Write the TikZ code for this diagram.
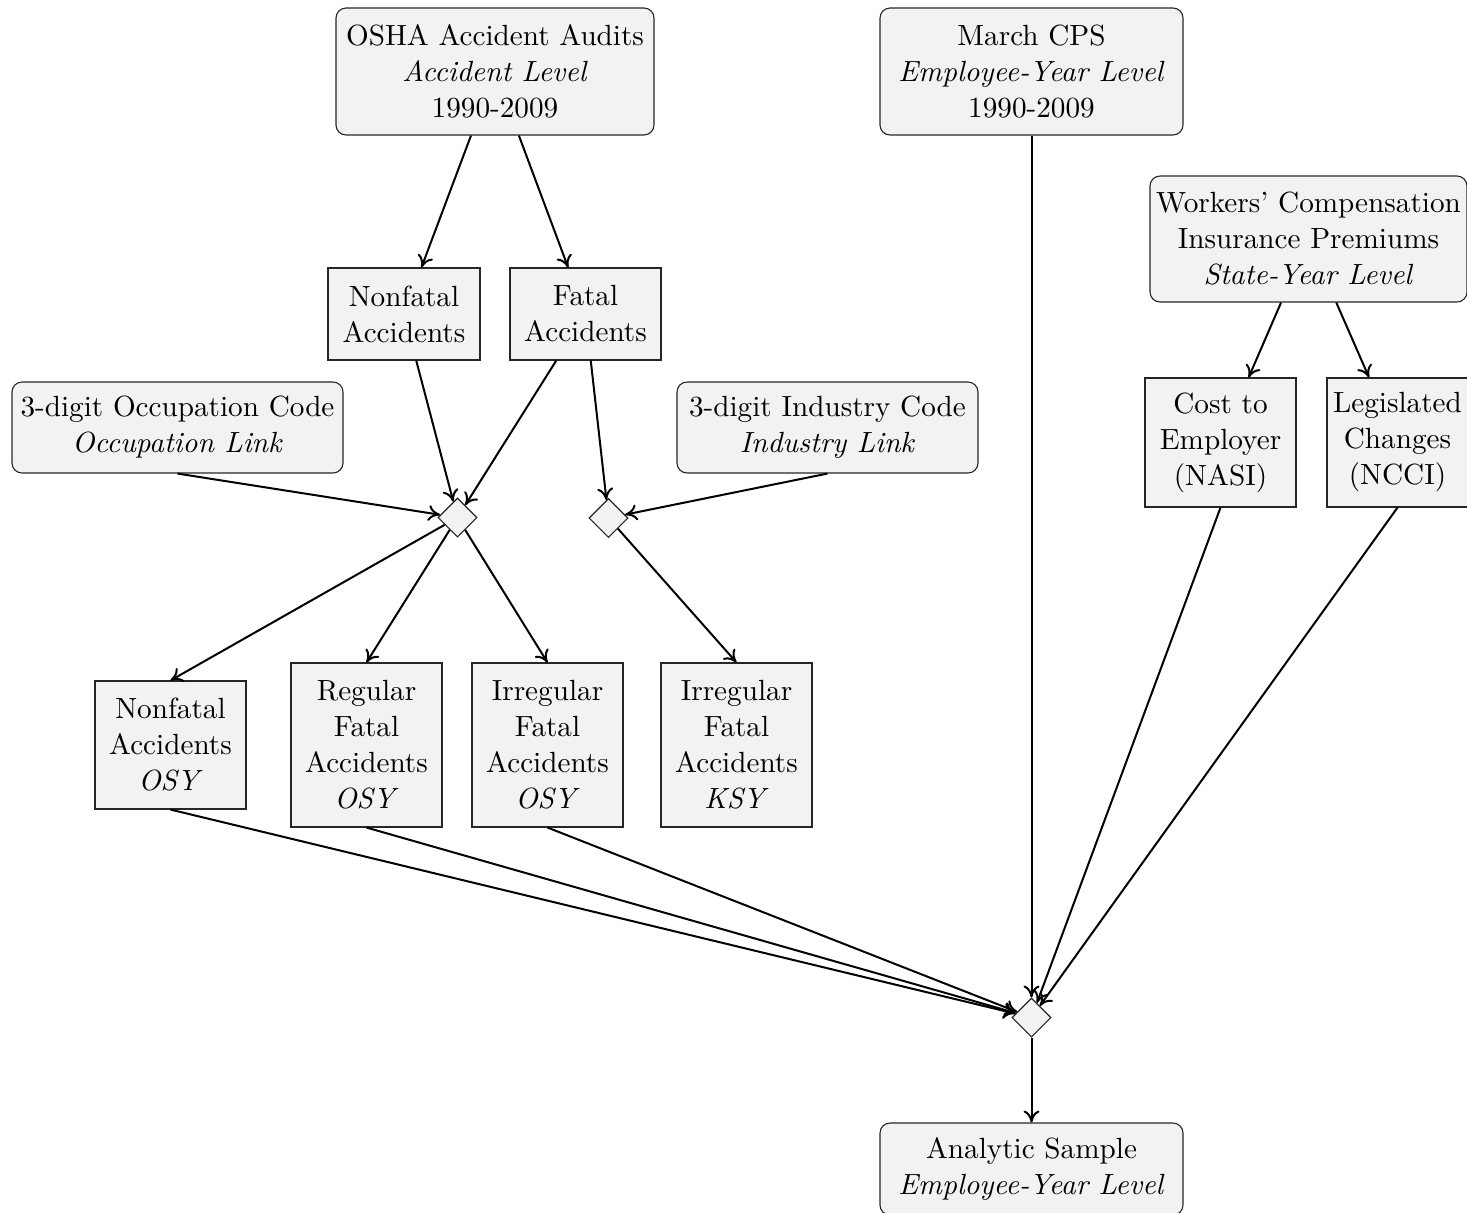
\documentclass[tikz,border=0pt]{standalone}
\usepackage{fontspec}
\setmainfont{lmroman10-regular.otf}[ItalicFont=lmroman10-italic.otf, BoldFont=lmroman10-bold.otf]
\usetikzlibrary{shapes.geometric,arrows.meta}
\begin{document}
\begin{tikzpicture}[x=0.5pt,y=-0.5pt,
  every node/.style={font=\fontsize{14.6pt}{18pt}\selectfont, align=center, inner sep=0pt},
  rbox/.style={draw=black!85, line width=0.55pt, fill=black!5, rounded corners=5pt},
  sbox/.style={draw=black!85, line width=0.55pt, fill=black!5},
  dmd/.style={diamond, draw=black!85, line width=0.55pt, fill=black!5, minimum width=19.5pt, minimum height=19.5pt, aspect=1},
  conn/.style={-{To[length=6pt,width=8pt]}, line width=1pt}]
\useasboundingbox (0,0) rectangle (1467,1212);

% top sources
\node[rbox, minimum width=159pt, minimum height=63.5pt] (osha) at (495,71.5)
  {OSHA Accident Audits\\ \textit{Accident Level}\\ 1990-2009};
\node[rbox, minimum width=151.5pt, minimum height=63.5pt] (cps) at (1031.5,71.5)
  {March CPS\\ \textit{Employee-Year Level}\\ 1990-2009};
\node[rbox, minimum width=158.5pt, minimum height=63pt] (wc) at (1308.5,239)
  {Workers' Compensation\\ Insurance Premiums\\ \textit{State-Year Level}};

% accident split
\node[sbox, minimum width=76pt, minimum height=46pt] (nf1) at (404,314)
  {Nonfatal\\ Accidents};
\node[sbox, minimum width=75.5pt, minimum height=46pt] (fa1) at (585.5,314)
  {Fatal\\ Accidents};

% links
\node[rbox, minimum width=165.5pt, minimum height=45.5pt] (occ) at (177.5,427.5)
  {3-digit Occupation Code\\ \textit{Occupation Link}};
\node[rbox, minimum width=150.5pt, minimum height=45.5pt] (ind) at (827.5,427.5)
  {3-digit Industry Code\\ \textit{Industry Link}};

% WC components
\node[sbox, minimum width=75.5pt, minimum height=64.5pt] (cost) at (1220.5,442.5)
  {Cost to\\ Employer\\ (NASI)};
\node[sbox, minimum width=70.5pt, minimum height=64.5pt] (leg) at (1397.5,442.5)
  {Legislated\\ Changes\\ (NCCI)};

% merge diamonds
\node[dmd] (d1) at (457.5,517.5) {};
\node[dmd] (d2) at (608.5,518) {};
\node[dmd] (d3) at (1031.5,1017.5) {};

% outcome measures
\node[sbox, minimum width=75.5pt, minimum height=64pt] (nfosy) at (170.5,745)
  {Nonfatal\\ Accidents\\ \textit{OSY}};
\node[sbox, minimum width=75.5pt, minimum height=82pt] (regosy) at (366.5,745)
  {Regular\\ Fatal\\ Accidents\\ \textit{OSY}};
\node[sbox, minimum width=75.5pt, minimum height=82pt] (irrosy) at (547.5,745)
  {Irregular\\ Fatal\\ Accidents\\ \textit{OSY}};
\node[sbox, minimum width=75.5pt, minimum height=82pt] (irrksy) at (736.5,745)
  {Irregular\\ Fatal\\ Accidents\\ \textit{KSY}};

% final
\node[rbox, minimum width=151.5pt, minimum height=46pt] (an) at (1031.5,1169)
  {Analytic Sample\\ \textit{Employee-Year Level}};

% connectors
\draw[conn] (osha) -- (nf1);
\draw[conn] (osha) -- (fa1);
\draw[conn] (nf1) -- (d1);
\draw[conn] (fa1) -- (d1);
\draw[conn] (fa1) -- (d2);
\draw[conn] (occ.south) -- (d1);
\draw[conn] (ind.south) -- (d2);
\draw[conn] (d1) -- (nfosy.north);
\draw[conn] (d1) -- (regosy.north);
\draw[conn] (d1) -- (irrosy.north);
\draw[conn] (d2) -- (irrksy.north);
\draw[conn] (wc) -- (cost);
\draw[conn] (wc) -- (leg);
\draw[conn] (cost.south) -- (d3);
\draw[conn] (leg.south) -- (d3);
\draw[conn] (cps) -- (d3);
\draw[conn] (nfosy.south) -- (d3);
\draw[conn] (regosy.south) -- (d3);
\draw[conn] (irrosy.south) -- (d3);
\draw[conn] (d3) -- (an);
\end{tikzpicture}
\end{document}
